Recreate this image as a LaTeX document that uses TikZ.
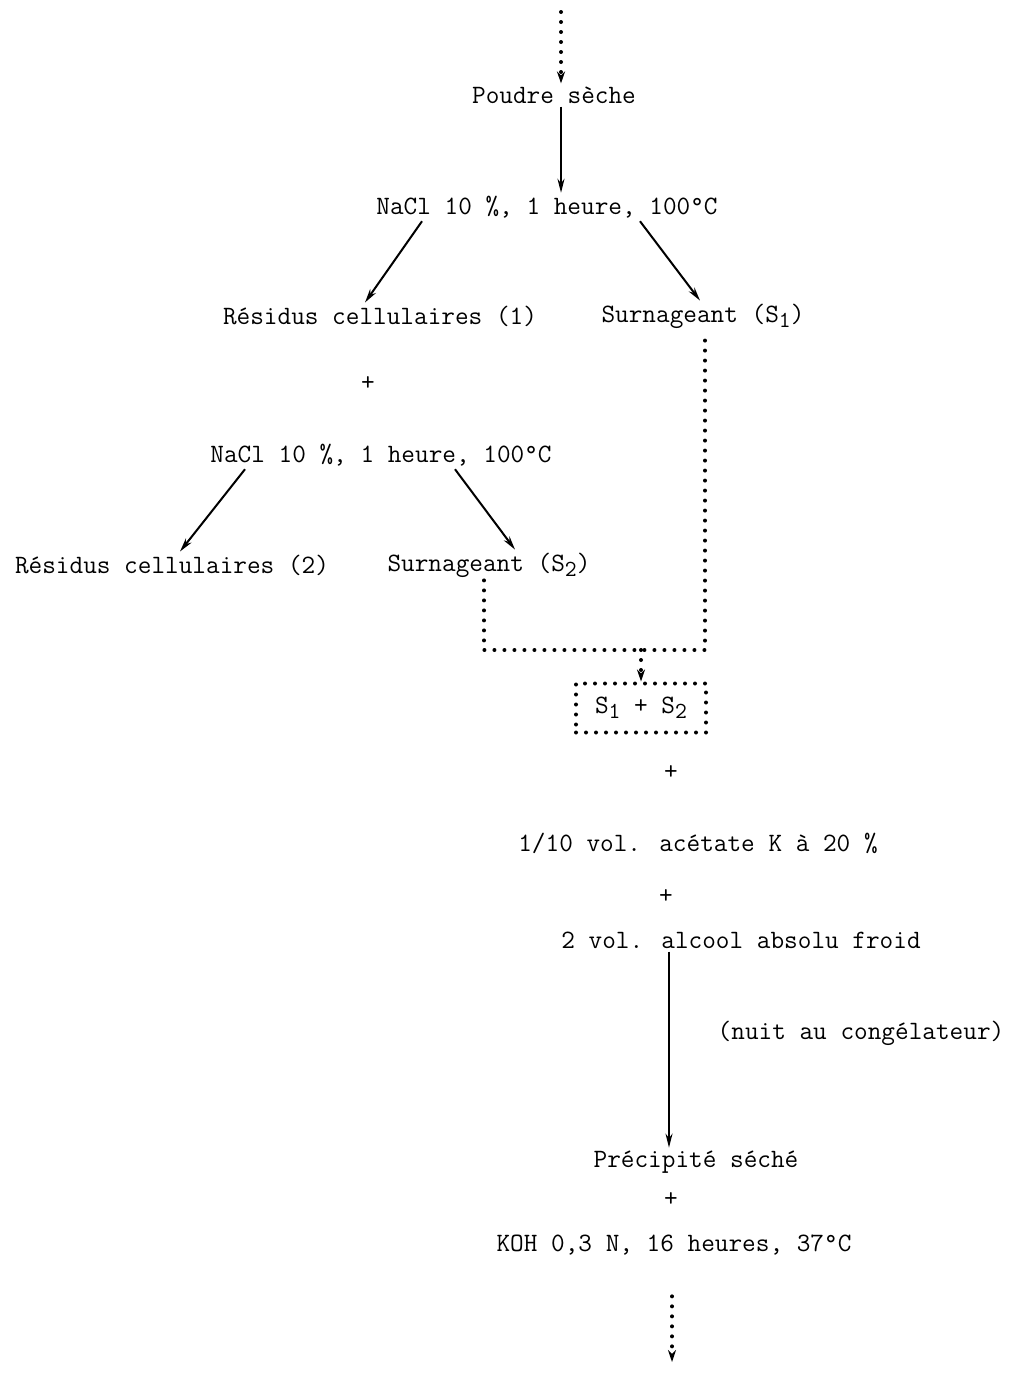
\documentclass[tikz,border=0pt]{standalone}
\usepackage{fontspec}
\usepackage{tikz}
\usetikzlibrary{positioning}
\usetikzlibrary{calc,arrows.meta}
\newcommand{\lowsub}[1]{\raisebox{-0.45ex}{\fontsize{23}{25}\selectfont #1}}
\tikzset{
	x=1pt, y=-1pt,
	txt/.style = {font=\ttfamily\fontsize{26.5}{30}\selectfont, inner sep=3pt},
	arr/.style = {-{Stealth[length=14pt,width=7pt]}, line width=2pt},
	dotline/.style = {line width=4pt, line cap=round, dash pattern=on 0pt off 10pt},
	dotarr/.style = {dotline, -{Stealth[length=12pt,width=8pt]}},
}
\begin{document}
\begin{tikzpicture}
  \useasboundingbox (0,0) rectangle (1015,1373);
               \coordinate (topin) at (561,12);
               \node at(554,95) (poudre) [txt] {Poudre sèche};
               \node at(547,207) (nacl1) [txt] {NaCl 10 \%, 1 heure, 100°C};
               \node at(380,316) (res1) [txt] {Résidus cellulaires (1)};
               \node at(703,316) (s1) [txt] {Surnageant (S\lowsub{1})};
               \node at(368,384) (plus1) [txt] {+};
               \node at(381,455) (nacl2) [txt] {NaCl 10 \%, 1 heure, 100°C};
               \node at(172,565) (res2) [txt] {Résidus cellulaires (2)};
               \node at(489,565) (s2) [txt] {Surnageant (S\lowsub{2})};
               \coordinate (jr) at (705,650);
               \coordinate (jm) at (641,650);
               \node at(641,708) (sbox) [txt, draw, dotline, minimum width=130, minimum height=49] {S\lowsub{1} + S\lowsub{2}};
               \node at(671,773) (plus2) [txt] {+};
               \node at(698,843) (acet) [txt] {1/10 vol. acétate K à 20 \%};
               \node at(666,897) (plus3) [txt] {+};
               \node at(741,940) (alcool) [txt] {2 vol. alcool absolu froid};
               \node at(861,1033) (nuit) [txt] {(nuit au congélateur)};
               \node at(696,1162) (precip) [txt] {Précipité séché};
               \node at(671,1200) (plus4) [txt] {+};
               \node at(674,1245) (koh) [txt] {KOH 0,3 N, 16 heures, 37°C};
               \coordinate (botout) at (672,1362);
               % first extraction
               \draw[dotarr] (topin) -- ([xshift=7]poudre.north);
               \draw[arr] ([xshift=7]poudre.south) -- ([xshift=14]nacl1.north);
               \draw[arr] ([xshift=-125]nacl1.south) -- ([xshift=-15]res1.north);
               \draw[arr] ([xshift=93]nacl1.south) -- ([xshift=-3]s1.north);
               % second extraction
               \draw[arr] ([xshift=-136]nacl2.south) -- ([xshift=8]res2.north);
               \draw[arr] ([xshift=74]nacl2.south) -- ([xshift=26]s2.north);
               % pooling
               \draw[dotline] ([xshift=-5]s2.south) |- (jr) -- ([xshift=2]s1.south);
               \draw[dotarr] (jm) -- (sbox.north);
               \draw[arr] ([xshift=-72]alcool.south) -- ([xshift=-27]precip.north);
               \draw[dotarr, shorten <=38pt] ([xshift=-2]koh.south) -- (botout);
        \end{tikzpicture}
\end{document}
